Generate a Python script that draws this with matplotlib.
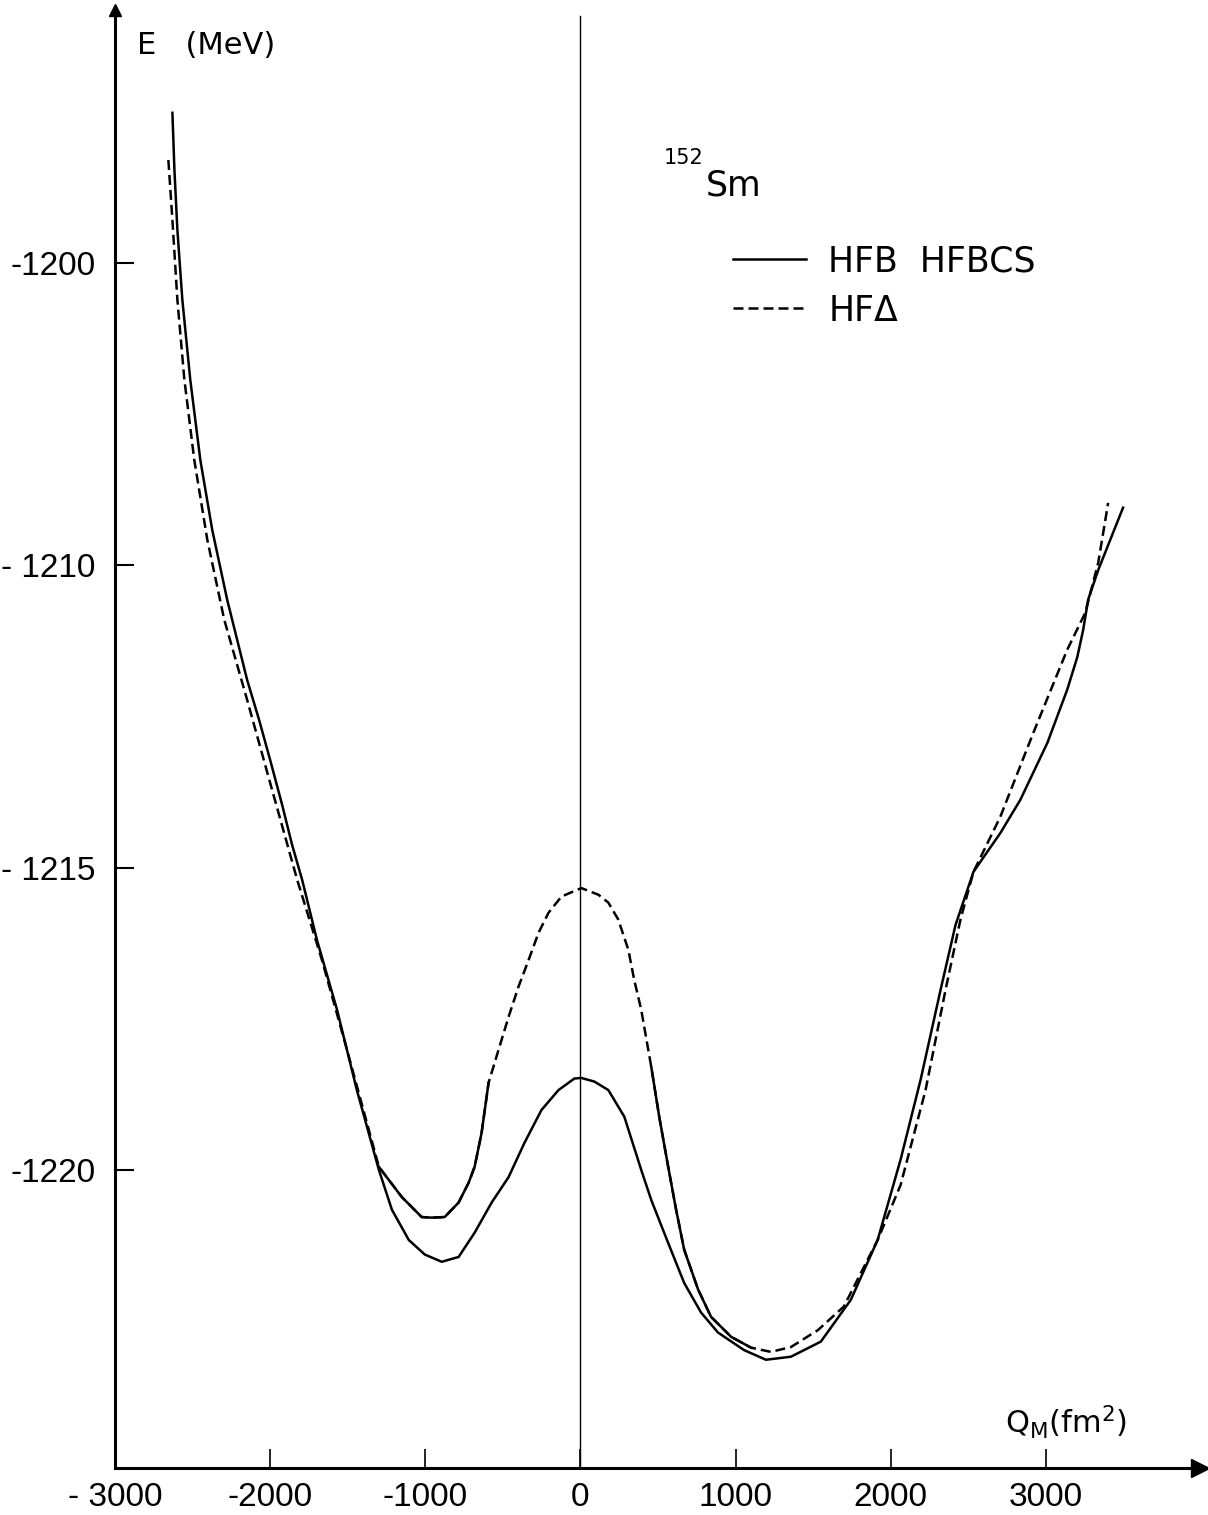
import matplotlib
matplotlib.use("Agg")
import matplotlib.pyplot as plt
import numpy as np

# HFB / HFBCS curve (solid), Q in fm^2, E in MeV
q_hfb = [-2630, -2617, -2598, -2566, -2515, -2450, -2373, -2277, -2148, -2071,
         -2000, -1923, -1859, -1794, -1698, -1569, -1441, -1299, -1215, -1106,
         -1003, -894, -785, -682, -572, -463, -360, -251, -141, -39,
         6, 90, 180, 283, 392, 457, 566, 669, 778, 887,
         1055, 1196, 1357, 1550, 1743, 1916, 2064, 2193, 2322, 2418,
         2534, 2707, 2836, 3010, 3138, 3203, 3241, 3273, 3338, 3498]
e_hfb = [-1202.52, -1203.46, -1204.45, -1205.61, -1206.93, -1208.26, -1209.42, -1210.57, -1211.90, -1212.56,
         -1213.22, -1213.96, -1214.62, -1215.20, -1216.20, -1217.35, -1218.68, -1220.00, -1220.66, -1221.16,
         -1221.40, -1221.52, -1221.44, -1221.04, -1220.54, -1220.12, -1219.55, -1219.01, -1218.68, -1218.49,
         -1218.48, -1218.54, -1218.68, -1219.12, -1220.00, -1220.50, -1221.21, -1221.87, -1222.36, -1222.69,
         -1222.98, -1223.14, -1223.09, -1222.84, -1222.15, -1221.16, -1219.83, -1218.51, -1217.02, -1215.95,
         -1215.07, -1214.43, -1213.88, -1212.94, -1212.06, -1211.52, -1211.07, -1210.57, -1210.08, -1209.05]

# HF-Delta curve (dashed)
q_hfd = [-2656, -2630, -2598, -2553, -2489, -2405, -2296, -2148, -1987, -1826,
         -1666, -1505, -1299, -1151, -1023, -958, -875, -785, -720, -682,
         -637, -592, -527, -463, -399, -334, -270, -206, -122, 6,
         116, 180, 244, 309, 347, 392, 457, 508, 566, 617,
         669, 759, 842, 971, 1100, 1228, 1357, 1531, 1698, 1916,
         2064, 2225, 2354, 2450, 2534, 2707, 2920, 3138, 3254, 3338,
         3402]
e_hfd = [-1203.30, -1204.29, -1205.61, -1206.93, -1208.26, -1209.58, -1210.90, -1212.23, -1213.72, -1215.20,
         -1216.53, -1218.01, -1219.95, -1220.45, -1220.78, -1220.79, -1220.78, -1220.54, -1220.21, -1219.95,
         -1219.39, -1218.56, -1218.01, -1217.47, -1216.97, -1216.53, -1216.08, -1215.75, -1215.48, -1215.34,
         -1215.45, -1215.58, -1215.86, -1216.36, -1216.86, -1217.35, -1218.30, -1219.12, -1219.95, -1220.66,
         -1221.32, -1221.98, -1222.43, -1222.76, -1222.94, -1223.01, -1222.93, -1222.65, -1222.26, -1221.16,
         -1220.25, -1218.68, -1217.02, -1215.86, -1215.07, -1214.16, -1212.77, -1211.40, -1210.79, -1209.96,
         -1208.97]

y_ticks = [-1205, -1210, -1215, -1220]
y_labels = ['-1200', '- 1210', '- 1215', '-1220']
x_ticks = [-3000, -2000, -1000, 0, 1000, 2000, 3000]
x_labels = ['- 3000', '-2000', '-1000', '0', '1000', '2000', '3000']

W, H = 1208, 1515
fig = plt.figure(figsize=(W / 100, H / 100), dpi=100)
ax = fig.add_axes([115 / W, (H - 1468) / H, 1085 / W, 1458 / H])
ax.set_xlim(-3000, 3994)
ax.set_ylim(-1224.93, -1200.82)

for s in ['top', 'right']:
    ax.spines[s].set_visible(False)
for s in ['left', 'bottom']:
    ax.spines[s].set_linewidth(2.2)

# arrow heads on the axes
ax.plot(1, 0, marker='>', color='k', markersize=13, transform=ax.transAxes, clip_on=False)
ax.plot(0, 1, marker='^', color='k', markersize=9, transform=ax.transAxes, clip_on=False)

ax.axvline(0, ymax=0.996, color='k', lw=1.0)

ax.plot(q_hfb, e_hfb, color='k', lw=1.8, label='HFB  HFBCS')
ax.plot(q_hfd, e_hfd, color='k', lw=1.8, dashes=(4, 2), label='HF\u0394')

# parts of the HF-Delta curve drawn solid in the original
qd = np.array(q_hfd)
ed = np.array(e_hfd, dtype=float)
solid = ((qd >= -1299) & (qd <= -592)) | ((qd >= 457) & (qd <= 1100))
ax.plot(qd, np.where(solid, ed, np.nan), color='k', lw=1.8)

ax.set_yticks(y_ticks)
ax.set_yticklabels(y_labels, family=['Liberation Sans', 'DejaVu Sans'])
ax.set_xticks(x_ticks)
ax.set_xticklabels(x_labels, family=['Liberation Sans', 'DejaVu Sans'])
ax.tick_params(axis='y', direction='in', length=14, width=1.5, labelsize=24, pad=14)
ax.tick_params(axis='x', direction='in', length=14, width=1.2, labelsize=24, pad=10)

fig.text(137 / W, 1 - 45 / H, 'E   (MeV)', fontsize=22, va='center', ha='left')
fig.text(664 / W, 1 - 158 / H, '152', fontsize=15, va='center', ha='left')
fig.text(706 / W, 1 - 186 / H, 'Sm', fontsize=25, va='center', ha='left')
fig.text(1005 / W, 1 - 1422 / H, r'$\mathregular{Q_M(fm^2)}$', fontsize=22, va='center', ha='left')

ax.legend(loc='upper left', bbox_to_anchor=((733 - 115) / 1085, (1468 - 244) / 1458),
          frameon=False, borderpad=0, borderaxespad=0, handlelength=2.1, handletextpad=0.65,
          labelspacing=0.45, prop={'size': 25})

fig.savefig('out.png', dpi=100)
